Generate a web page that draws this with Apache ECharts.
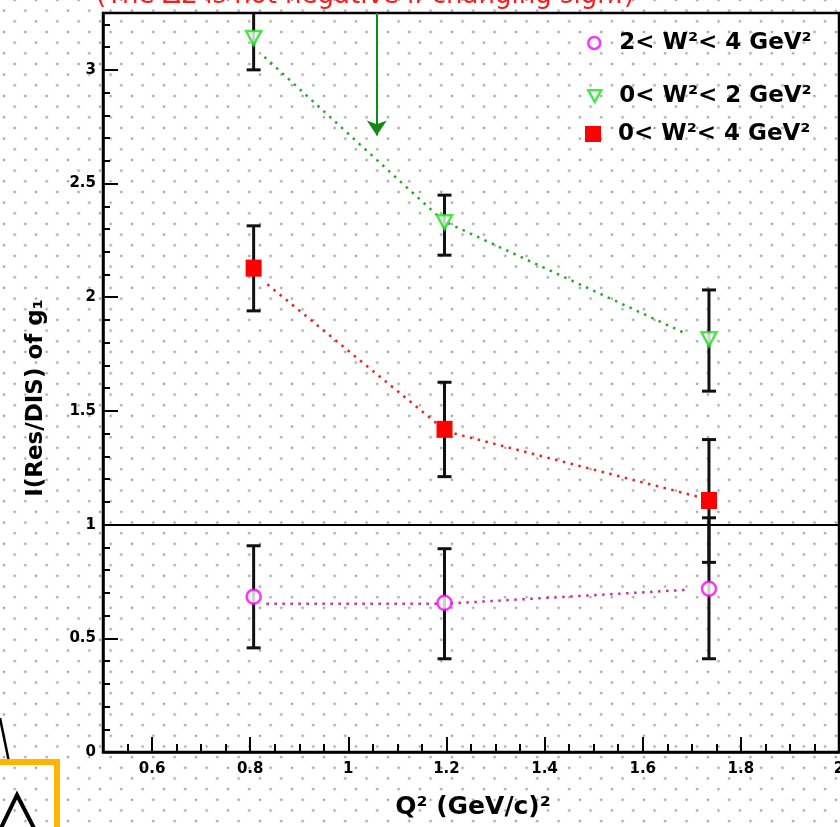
<!DOCTYPE html>
<html><head><meta charset="utf-8">
<script src="https://cdn.jsdelivr.net/npm/echarts@6/dist/echarts.min.js"></script>
<style>
html,body{margin:0;padding:0;width:840px;height:827px;overflow:hidden;background-color:#fff;
background-image:radial-gradient(circle,#a6a6a6 0,#a6a6a6 1px,rgba(255,255,255,0) 1.7px),radial-gradient(circle,#a6a6a6 0,#a6a6a6 1px,rgba(255,255,255,0) 1.7px);
background-size:21.333px 21.333px;background-position:-6.667px 0px,4px -10.667px;}
#chart{width:840px;height:827px;}
</style></head>
<body><div id="chart"></div>
<script>
// ---- data ----
const xVals = [0.807, 1.196, 1.735];
const greenY = [3.14, 2.33, 1.815];
const greenLow = [3.0, 2.185, 1.587];
const greenHigh = [3.35, 2.449, 2.032];
const redY = [2.128, 1.419, 1.106];
const redLow = [1.94, 1.211, 0.834];
const redHigh = [2.314, 1.626, 1.374];
const magY = [0.683, 0.656, 0.718];
const magLow = [0.458, 0.41, 0.41];
const magHigh = [0.907, 0.894, 1.03];
const greenLineX = [0.829, 1.194, 1.682];
const greenLineY = [3.057, 2.335, 1.846];
const redLineX = [0.835, 1.2, 1.712];
const redLineY = [2.057, 1.41, 1.123];
const magLineX = [0.833, 1.196, 1.696];
const magLineY = [0.652, 0.652, 0.714];
const xTicks = [0.6, 0.8, 1, 1.2, 1.4, 1.6, 1.8, 2];
const yTicks = [0, 0.5, 1, 1.5, 2, 2.5, 3];
const legendNames = ['2< W²< 4 GeV²', '0< W²< 2 GeV²', '0< W²< 4 GeV²'];
const xTitle = 'Q² (GeV/c)²';
const yTitle = 'I(Res/DIS) of g₁';
const noteText = '(The ΔΣ is not negative if changing sign!)';
const arrowX = 1.058, arrowTop = 3.25, arrowTip = 2.711;
const refLineY = 1;

const xMinor = []; for (let i = 11; i <= 40; i++) xMinor.push(+(i * 0.05).toFixed(2));
const yMinor = []; for (let i = 0; i <= 32; i++) yMinor.push(+(i * 0.1).toFixed(1));

const FONT = '"DejaVu Sans", "Liberation Sans", sans-serif';
const pts = (xs, ys) => xs.map((x, i) => [x, ys[i]]);
const errData = (lo, hi) => xVals.map((x, i) => [x, lo[i], hi[i]]);

function errRender(params, api) {
  const x = api.value(0);
  const p1 = api.coord([x, api.value(1)]);
  const p2 = api.coord([x, api.value(2)]);
  const hw = 7;
  const st = { stroke: '#111', lineWidth: 3 };
  return { type: 'group', children: [
    { type: 'line', shape: { x1: p1[0], y1: p1[1], x2: p2[0], y2: p2[1] }, style: st },
    { type: 'line', shape: { x1: p1[0] - hw, y1: p1[1], x2: p1[0] + hw, y2: p1[1] }, style: st },
    { type: 'line', shape: { x1: p2[0] - hw, y1: p2[1], x2: p2[0] + hw, y2: p2[1] }, style: st }
  ]};
}

const chart = echarts.init(document.getElementById('chart'), null, { renderer: 'canvas' });
const dotted = (c) => ({ color: c, width: 2.5, type: [2.5, 5.5] });
const legText = { fontFamily: FONT, fontSize: 23, fontWeight: 'bold', color: '#000', lineHeight: 24 };
const legBase = { orient: 'horizontal', left: 587, padding: 0, selectedMode: false };

chart.setOption({
  backgroundColor: 'transparent',
  animation: false,
  grid: { left: 103, width: 736, top: 13, bottom: 75, show: true, borderColor: '#000', borderWidth: 2.5, backgroundColor: 'transparent',
    containLabel: false, outerBoundsMode: 'none' },
  xAxis: [
    { type: 'value', min: 0.5, max: 2, position: 'bottom',
      axisLine: { show: true, lineStyle: { color: '#000', width: 2.5 } },
      axisTick: { show: true, inside: true, length: 15, customValues: xTicks, lineStyle: { color: '#000', width: 2 } },
      axisLabel: { show: true, customValues: xTicks, margin: 10, color: '#000', fontFamily: FONT, fontSize: 15, fontWeight: 'bold', hideOverlap: false },
      splitLine: { show: false } },
    { type: 'value', min: 0.5, max: 2, position: 'bottom',
      axisLine: { show: false },
      axisTick: { show: true, inside: true, length: 8, customValues: xMinor, lineStyle: { color: '#000', width: 2 } },
      axisLabel: { show: false }, splitLine: { show: false } }
  ],
  yAxis: [
    { type: 'value', min: 0, max: 3.25, position: 'left',
      axisLine: { show: true, lineStyle: { color: '#000', width: 2.5 } },
      axisTick: { show: true, inside: true, length: 15, customValues: yTicks, lineStyle: { color: '#000', width: 2 } },
      axisLabel: { show: true, customValues: yTicks, margin: 7, color: '#000', fontFamily: FONT, fontSize: 15, fontWeight: 'bold' },
      splitLine: { show: false } },
    { type: 'value', min: 0, max: 3.25, position: 'left',
      axisLine: { show: false },
      axisTick: { show: true, inside: true, length: 7, customValues: yMinor, lineStyle: { color: '#000', width: 2 } },
      axisLabel: { show: false }, splitLine: { show: false } }
  ],
  legend: [
    Object.assign({}, legBase, { top: 31, data: [legendNames[0]], icon: 'circle', itemWidth: 12, itemHeight: 13,
      itemStyle: { color: '#fff', borderColor: '#ff00ff', borderWidth: 2.5 }, textStyle: Object.assign({}, legText, { padding: [0, 0, 0, 14] }) }),
    Object.assign({}, legBase, { top: 84, data: [legendNames[1]], icon: 'path://M0,0L10,0L5,9Z', itemWidth: 13, itemHeight: 12,
      itemStyle: { color: '#fff', borderColor: '#1ee01e', borderWidth: 2.5 }, textStyle: Object.assign({}, legText, { padding: [0, 0, 0, 13] }) }),
    Object.assign({}, legBase, { top: 122, data: [legendNames[2]], icon: 'rect', itemWidth: 16, itemHeight: 16, left: 585,
      itemStyle: { color: '#ff0000', borderWidth: 0 }, textStyle: Object.assign({}, legText, { padding: [0, 0, 0, 12] }) })
  ],
  graphic: [
    { type: 'text', x: 96, y: -4, style: { text: noteText, fill: '#ff1a1a', font: '26px ' + FONT, textVerticalAlign: 'middle' }, z: 10 },
    { type: 'text', x: 36, y: 398, rotation: Math.PI / 2, style: { text: yTitle, fill: '#000', font: 'bold 23px ' + FONT, textAlign: 'center', textVerticalAlign: 'middle' } },
    { type: 'text', x: 473, y: 807, style: { text: xTitle, fill: '#000', font: 'bold 25px ' + FONT, textAlign: 'center', textVerticalAlign: 'middle' } },
    { type: 'polyline', shape: { points: [[0, 718], [9, 762]] }, style: { stroke: '#000', lineWidth: 2.5, fill: null } },
    { type: 'polyline', shape: { points: [[0, 830], [17, 795], [35, 830]] }, style: { stroke: '#000', lineWidth: 4, fill: null } },
    { type: 'polyline', shape: { points: [[-5, 762], [57, 762], [57, 835]] }, style: { stroke: '#ffb400', lineWidth: 6, fill: null } }
  ],
  series: [
    { type: 'line', name: 'gline', xAxisIndex: 0, yAxisIndex: 0, data: pts(greenLineX, greenLineY), symbol: 'none', lineStyle: dotted('#2aa82a'), z: 2,
      markLine: { silent: true, symbol: ['none', 'arrow'], symbolSize: [15, 15], label: { show: false },
        lineStyle: { color: '#138a13', width: 2, type: 'solid' },
        data: [[{ coord: [arrowX, arrowTop] }, { coord: [arrowX, arrowTip] }]] } },
    { type: 'line', name: 'rline', data: pts(redLineX, redLineY), symbol: 'none', lineStyle: dotted('#f02020'), z: 2 },
    { type: 'line', name: 'mline', data: pts(magLineX, magLineY), symbol: 'none', lineStyle: dotted('#c8309a'), z: 2,
      markLine: { silent: true, symbol: 'none', label: { show: false }, lineStyle: { color: '#000', width: 2, type: 'solid' }, data: [{ yAxis: refLineY }] } },
    { type: 'custom', name: 'gerr', renderItem: errRender, data: errData(greenLow, greenHigh), clip: true, z: 3, encode: { x: 0, y: [1, 2] } },
    { type: 'custom', name: 'rerr', renderItem: errRender, data: errData(redLow, redHigh), clip: true, z: 3, encode: { x: 0, y: [1, 2] } },
    { type: 'custom', name: 'merr', renderItem: errRender, data: errData(magLow, magHigh), clip: true, z: 3, encode: { x: 0, y: [1, 2] } },
    { type: 'scatter', name: legendNames[0], data: pts(xVals, magY), symbol: 'circle', symbolSize: 14,
      itemStyle: { color: '#fff', borderColor: '#ff00ff', borderWidth: 2.5 }, z: 5 },
    { type: 'scatter', name: legendNames[1], data: pts(xVals, greenY), symbol: 'path://M0,0L10,0L5,9Z', symbolSize: [15, 14],
      itemStyle: { color: '#fff', borderColor: '#1ee01e', borderWidth: 2.5 }, z: 5 },
    { type: 'scatter', name: legendNames[2], data: pts(xVals, redY), symbol: 'rect', symbolSize: [16, 17],
      itemStyle: { color: '#ff0000', opacity: 1 }, z: 5 }
  ]
});
</script></body></html>
